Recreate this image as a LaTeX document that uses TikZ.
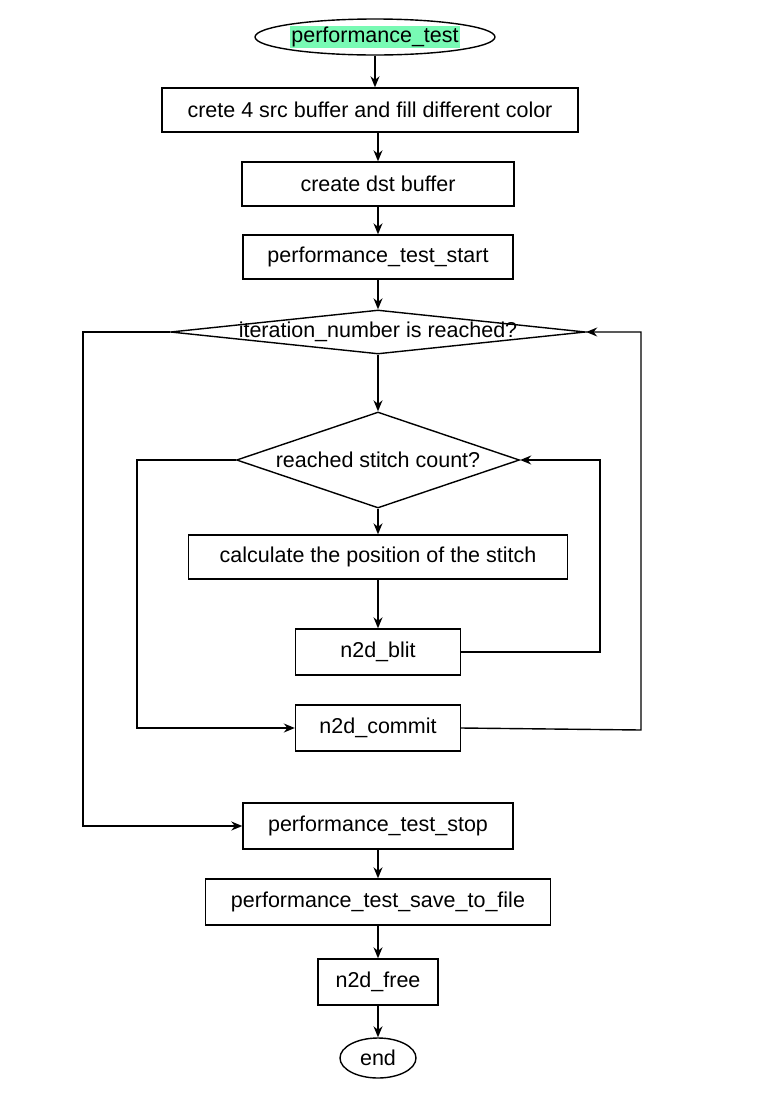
\documentclass[tikz,border=0pt]{standalone}
\usepackage{fontspec}
\setmainfont{Liberation Sans}
\usetikzlibrary{positioning, shapes.geometric, arrows.meta}

\begin{document}
\begin{tikzpicture}[x=1pt, y=-1pt, line width=1.4pt,
  >={Stealth[length=11pt,width=9pt]},
  every node/.style={font=\fontsize{21.5}{24}\selectfont},
  box node/.style={rectangle,draw,minimum height=44pt,inner sep=0pt},
  test node/.style={diamond,draw,inner sep=0pt},
  end node/.style={ellipse,draw,inner sep=0pt}]

\useasboundingbox (0,0) rectangle (782,1120);

\node[end node, minimum width=240pt, minimum height=36pt] (start) at (375,37) {};
\node[fill={rgb,255:red,120;green,250;blue,180}, inner sep=1pt] at (start) {performance\_test};
\node[box node, minimum width=416pt] (fill) at (370,110) {crete 4 src buffer and fill different color};
\node[box node, minimum width=272pt] (dst) at (378,184) {create dst buffer};
\node[box node, minimum width=270pt] (tstart) at (378,257) {performance\_test\_start};
\node[test node, minimum width=415pt, minimum height=44pt] (iter) at (378,332) {};
\node at (iter) {iteration\_number is reached?};
\node[test node, minimum width=283pt, minimum height=96pt] (stitch) at (378,460) {};
\node at (stitch) {reached stitch count?};
\node[box node, minimum width=379pt] (pos) at (378,557) {calculate the position of the stitch};
\node[box node, minimum width=165pt, minimum height=46pt] (blit) at (378,652) {n2d\_blit};
\node[box node, minimum width=165pt, minimum height=46pt] (commit) at (378,728) {n2d\_commit};
\node[box node, minimum width=270pt, minimum height=46pt] (tstop) at (378,826) {performance\_test\_stop};
\node[box node, minimum width=345pt, minimum height=46pt] (save) at (378,902) {performance\_test\_save\_to\_file};
\node[box node, minimum width=120pt, minimum height=46pt] (free) at (378,982) {n2d\_free};
\node[end node, minimum width=76pt, minimum height=40pt] (end) at (378,1058) {end};

\draw[->] (start) -- (fill.north -| start);
\draw[->] (fill.south -| dst) -- (dst);
\draw[->] (dst) -- (tstart);
\draw[->] (tstart) -- (iter);
\draw[->] (iter) -- (stitch);
\draw[->] (stitch) -- (pos);
\draw[->] (pos) -- (blit);
\draw[->] (tstop) -- (save);
\draw[->] (save) -- (free);
\draw[->] (free) -- (end);

% loops
\draw[->] (iter.west) -- (83,332) |- (tstop.west);
\draw[->] (commit.east) -- (641,730) |- (iter.east);
\draw[->] (stitch.west) -- (137,460) |- (commit.west);
\draw[->] (blit.east) -- (600,652) |- (stitch.east);

\end{tikzpicture}
\end{document}
